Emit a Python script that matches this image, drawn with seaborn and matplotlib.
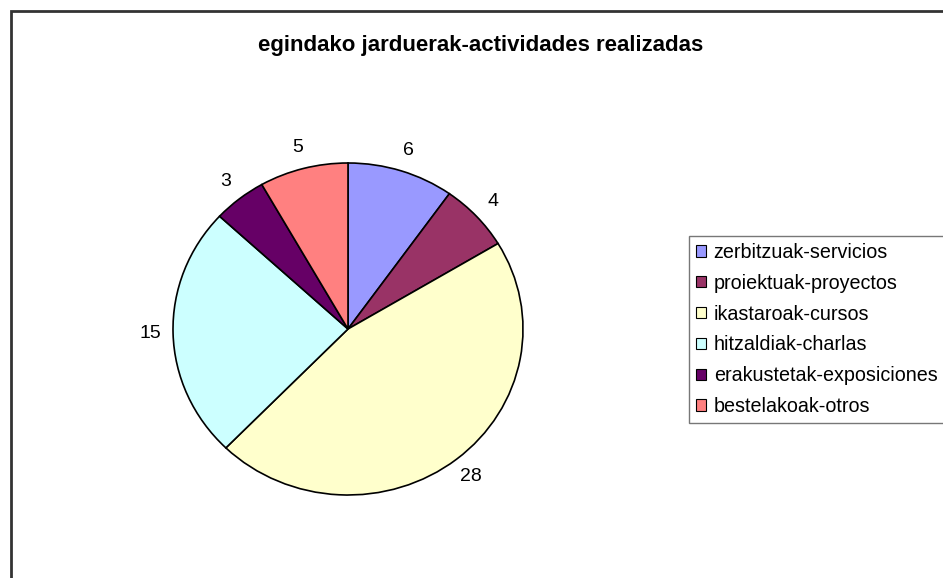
import matplotlib
matplotlib.use("Agg")
import matplotlib.pyplot as plt
from matplotlib.patches import Rectangle
import seaborn as sns

categories = ['zerbitzuak-servicios', 'proiektuak-proyectos', 'ikastaroak-cursos',
              'hitzaldiak-charlas', 'erakustetak-exposiciones', 'bestelakoak-otros']
values = [6, 4, 28, 15, 3, 5]
colors = ['#9999FF', '#993366', '#FFFFCC', '#CCFFFF', '#660066', '#FF8080']
title = 'egindako jarduerak-actividades realizadas'

sns.set_theme(style="white")
plt.rcParams['font.family'] = ['Liberation Sans', 'DejaVu Sans']
plt.rcParams['text.color'] = 'black'

fig = plt.figure(figsize=(9.43, 5.78), dpi=100)
W, H = 943, 578

# pie area (slightly wider than tall, like the original)
ax = fig.add_axes([173 / W, 1 - 495 / H, 350 / W, 332 / H])
palette = sns.color_palette(colors)
wedges, texts = ax.pie(values, labels=[str(v) for v in values], colors=palette,
                       startangle=90, counterclock=False, labeldistance=1.13,
                       wedgeprops=dict(edgecolor='black', linewidth=1.2),
                       textprops=dict(fontsize=14, color='black'))
for t in texts:
    t.set_ha('center')
    t.set_va('center')
ax.set_aspect('auto')
ax.set_xlim(-1, 1)
ax.set_ylim(-1, 1)
ax.axis('off')

fig.text(481 / W, 1 - 46 / H, title, ha='center', va='center',
         fontsize=16, fontweight='bold', color='black')

leg = fig.legend(wedges, categories, loc='upper left',
                 bbox_to_anchor=(689 / W, 1 - 236 / H), fontsize=14.2,
                 frameon=True, fancybox=False, edgecolor='#555555',
                 handlelength=0.5, handleheight=0.5, handletextpad=0.4,
                 labelspacing=0.6, borderpad=0.35, borderaxespad=0)
leg.get_frame().set_linewidth(1.0)
for txt in leg.get_texts():
    txt.set_color('black')
for h in leg.legend_handles:
    h.set_linewidth(0.8)

# outer chart border
fig.patches.append(Rectangle((11 / W, -0.5), 2, 0.5 + 1 - 11 / H, transform=fig.transFigure,
                             fill=False, edgecolor='#333333', linewidth=2))

fig.savefig('out.png', dpi=100)
